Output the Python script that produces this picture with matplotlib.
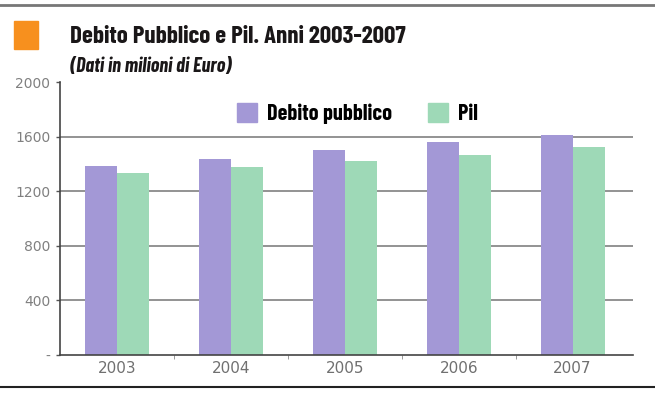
import numpy as np
import matplotlib.pyplot as plt
from matplotlib.patches import Rectangle
from matplotlib.lines import Line2D

anni = ["2003", "2004", "2005", "2006", "2007"]
debito = [1387, 1439, 1505, 1563, 1615]
pil = [1336, 1380, 1424, 1468, 1527]
yticks = [0, 400, 800, 1200, 1600, 2000]
ylabels = ["-", "400", "800", "1200", "1600", "2000"]

narrow = ["Barlow Condensed", "DejaVu Sans"]
viola = "#a398d6"
verde = "#9ed9b7"

fig = plt.figure(figsize=(6.55, 3.95), dpi=100)
ax = fig.add_axes([0.0916, 0.1013, 0.8748, 0.6911])

x = np.arange(len(anni))
w = 0.28
ax.bar(x - w / 2, debito, w, color=viola, zorder=2, label="Debito pubblico")
ax.bar(x + w / 2, pil, w, color=verde, zorder=2, label="Pil")

ax.set_xlim(-0.5, 4.53)
ax.set_ylim(0, 2000)
for v in yticks[1:-1]:
    ax.axhline(v, color="#8a8a8a", lw=1.3, zorder=1)

ax.set_yticks(yticks)
ax.set_yticklabels(ylabels)
ax.set_xticks(x)
ax.set_xticklabels(anni)
ax.set_xticks(x[:-1] + 0.5, minor=True)
ax.tick_params(axis="y", length=3, width=1, color="#555555", labelcolor="#808080",
               labelsize=10, pad=4)
ax.tick_params(axis="x", which="major", length=0, labelcolor="#707070",
               labelsize=11, pad=4)
ax.tick_params(axis="x", which="minor", length=3, color="#888888")

for s in ["top", "right"]:
    ax.spines[s].set_visible(False)
ax.spines["left"].set_color("#444444")
ax.spines["bottom"].set_color("#444444")
ax.spines["left"].set_linewidth(1.2)
ax.spines["bottom"].set_linewidth(1.2)

# legenda
handles = [Rectangle((0, 0), 1, 1, color=viola), Rectangle((0, 0), 1, 1, color=verde)]
fig.legend(handles, ["Debito pubblico", "Pil"], loc="center", ncol=2,
           bbox_to_anchor=(0.546, 0.712), frameon=False,
           prop={"family": narrow, "weight": "bold", "size": 16},
           handlelength=0.9, handleheight=0.9, handletextpad=0.45, columnspacing=1.6)

# titolo
fig.patches.append(Rectangle((14 / 655, 1 - 49 / 395), 24 / 655, 28 / 395,
                             transform=fig.transFigure, color="#f7901e"))
fig.text(70 / 655, 1 - 43 / 395, "Debito Pubblico e Pil. Anni 2003-2007",
         family=narrow, weight="bold", size=18, color="#1a1718")
fig.text(70 / 655, 1 - 72 / 395, "(Dati in milioni di Euro)",
         family=narrow, weight="bold", style="italic", size=14.5, color="#1a1718")

# bordi
fig.lines.append(Line2D([0, 1], [1 - 5 / 395] * 2, transform=fig.transFigure,
                        color="#777777", lw=2))
fig.lines.append(Line2D([0, 1], [1 - 387 / 395] * 2, transform=fig.transFigure,
                        color="#222222", lw=1.5))

fig.savefig("out.png", dpi=100)
